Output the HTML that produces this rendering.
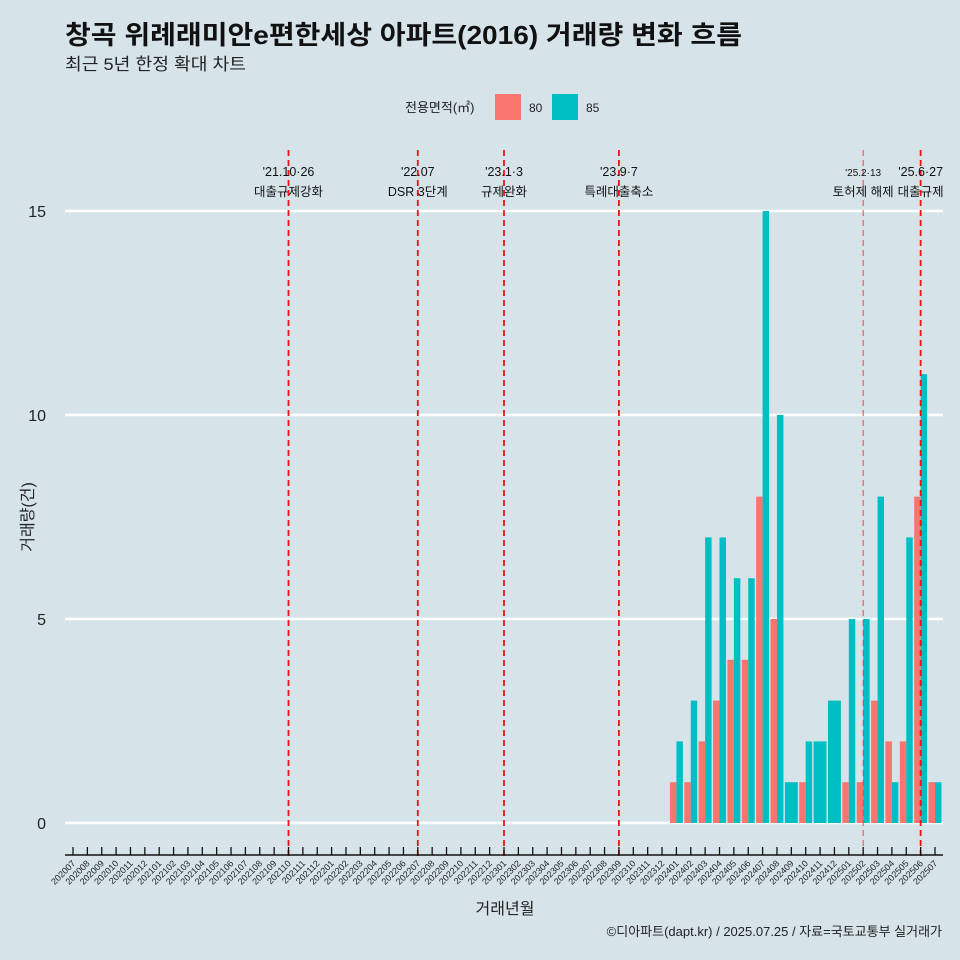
<!DOCTYPE html>
<html><head><meta charset="utf-8">
<style>
body{margin:0;background:#d6e4ea;}
svg{display:block;font-family:"Liberation Sans","Noto Sans CJK KR",sans-serif;}
</style></head>
<body>
<svg id="chart" width="960" height="960" viewBox="0 0 960 960">
<rect width="960" height="960" fill="#d6e4ea"/>
<text x="65" y="44" font-size="26" font-weight="bold" fill="#111" textLength="677" lengthAdjust="spacingAndGlyphs">창곡 위례래미안e편한세상 아파트(2016) 거래량 변화 흐름</text>
<text x="65" y="70" font-size="17" fill="#222" textLength="181" lengthAdjust="spacingAndGlyphs">최근 5년 한정 확대 차트</text>
<g>
<text x="405" y="112" font-size="13" fill="#222">전용면적(㎡)</text>
<rect x="495" y="94" width="26" height="26" fill="#f8766d"/>
<text x="529" y="112" font-size="12" fill="#222">80</text>
<rect x="552" y="94" width="26" height="26" fill="#00bfc4"/>
<text x="586" y="112" font-size="12" fill="#222">85</text>
</g>
<g id="plot"></g>
<text x="505" y="914" font-size="16" text-anchor="middle" fill="#222">거래년월</text>
<text x="33" y="517" font-size="16" text-anchor="middle" fill="#222" transform="rotate(-90 33 517)">거래량(건)</text>
<text x="942" y="936" font-size="13" text-anchor="end" fill="#222">©디아파트(dapt.kr) / 2025.07.25 / 자료=국토교통부 실거래가</text>
</svg>
<script>
const months=[];
for(let y=2020;y<=2025;y++)for(let m=1;m<=12;m++){const k=y*100+m;if(k>=202007&&k<=202507)months.push(String(k));}
const barMonths=["202401","202402","202403","202404","202405","202406","202407","202408","202409","202410","202411","202412","202501","202502","202503","202504","202505","202506","202507"];
const values80=[1,1,2,3,4,4,8,5,null,1,null,null,1,1,3,2,2,8,1];
const values85=[2,3,7,7,6,6,15,10,1,2,2,3,5,5,8,1,7,11,1];
const yTicks=[0,5,10,15];
const eventMonths=["202110","202207","202301","202309","202502","202506"];
const eventLine1=["'21.10·26","'22.07","'23.1·3","'23.9·7","'25.2·13","'25.6·27"];
const eventLine2=["대출규제강화","DSR 3단계","규제완화","특례대출축소","토허제 해제","대출규제"];

const NS="http://www.w3.org/2000/svg";
const g=document.getElementById('plot');
function el(t,a,p){const e=document.createElementNS(NS,t);for(const k in a)e.setAttribute(k,a[k]);(p||g).appendChild(e);return e;}
const x0=73,step=(935-73)/60;
const xs=m=>x0+months.indexOf(m)*step;
const ys=v=>823-v*(823-211)/15;
const bw=step*0.9;
yTicks.forEach(t=>{
 const l=el('line',{x1:65,x2:943,y1:ys(t),y2:ys(t),stroke:'#fff','stroke-width':2.5});
 
 
 const tx=el('text',{x:46,y:ys(t)+6,'font-size':16,'text-anchor':'end',fill:'#222'});
 tx.textContent=t;
 
 
});
barMonths.forEach((m,i)=>{
 const cx=xs(m);const a=values80[i],b=values85[i];
 const both=a!=null&&b!=null;
 if(a!=null){const w=both?bw/2:bw;const x=cx-bw/2;
  const r=el('rect',{x:x,y:ys(a),width:w,height:ys(0)-ys(a),fill:'#f8766d'});
  
  }
 if(b!=null){const w=both?bw/2:bw;const x=both?cx:cx-bw/2;
  const r=el('rect',{x:x,y:ys(b),width:w,height:ys(0)-ys(b),fill:'#00bfc4'});
  
  }
});
eventMonths.forEach((m,i)=>{
 const x=xs(m);const small=i==4;
 const l=el('line',{x1:x,x2:x,y1:150,y2:856,stroke:small?'#ee4444':'#ee1111','stroke-width':small?1:1.8,'stroke-dasharray':'6 4'});
 
 
 const t1=el('text',{x:x,y:176,'font-size':small?10:12.5,'text-anchor':'middle',fill:'#111'});
 t1.textContent=eventLine1[i];
 
 
 const t2=el('text',{x:x,y:196,'font-size':12.5,'text-anchor':'middle',fill:'#111'});
 t2.textContent=eventLine2[i];
 
 
});
const ax=el('line',{x1:65,x2:943,y1:855,y2:855,stroke:'#111','stroke-width':1.5});


months.forEach(m=>{
 const x=xs(m);
 const tk=el('line',{x1:x,x2:x,y1:847,y2:855,stroke:'#111','stroke-width':1.3});
 
 
 const t=el('text',{x:x+3,y:864,'font-size':9,'text-anchor':'end',fill:'#222',transform:`rotate(-45 ${x+3} 864)`});
 t.textContent=m;
 
 
});
</script>
</body></html>
